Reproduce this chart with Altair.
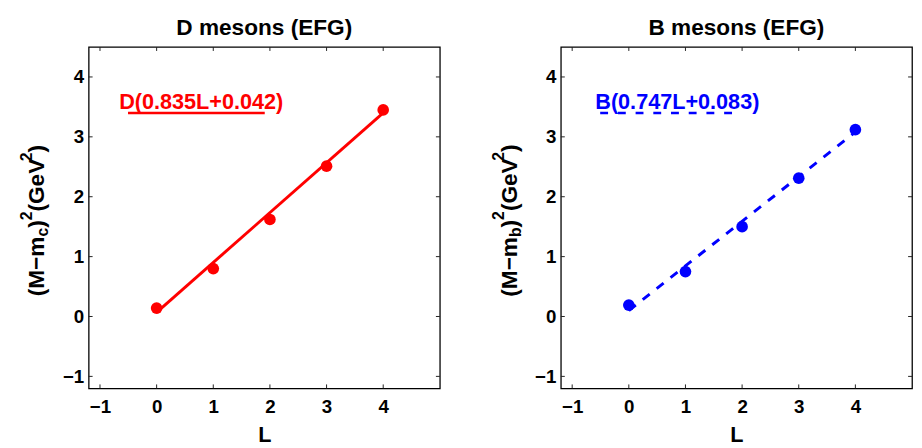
import altair as alt
import pandas as pd

# ---- data ----
L_vals = [0, 1, 2, 3, 4]
d_vals = [0.14, 0.80, 1.62, 2.51, 3.45]
b_vals = [0.19, 0.75, 1.50, 2.31, 3.12]
fit_L = [0, 4]
d_fit = [0.07, 3.40]
b_fit = [0.10, 3.08]
x_ticks = [-1, 0, 1, 2, 3, 4]
y_ticks = [-1, 0, 1, 2, 3, 4]
panel_titles = ["D mesons (EFG)", "B mesons (EFG)"]
legend_texts = ["D(0.835L+0.042)", "B(0.747L+0.083)"]
subscripts = ["c", "b"]
colors = ["#ff0000", "#0000ff"]

W, H = 357, 347
FONT = "Liberation Sans"
X_DOM = [-1.2, 5]
Y_DOM = [-1.2, 4.5]


def text_layer(txt, x, y, **kw):
    return (
        alt.Chart(pd.DataFrame({"t": [txt]}))
        .mark_text(font=FONT, fontWeight="bold", **kw)
        .encode(x=alt.value(x), y=alt.value(y), text="t:N")
    )


def ytitle_layers(sub):
    # composite rotated title: (M−m_sub)^2(GeV^2)
    pieces = [
        ("(M\u2212m", 23, 0, 2.639),
        (sub, 16, 4, 0.611 if sub == "b" else 0.556),
        (")", 23, 0, 0.333),
        ("2", 16, -13, 0.556),
        ("(GeV", 23, 0, 2.223),
        ("2", 16, -13, 0.556),
        (")", 23, 0, 0.333),
    ]
    total = sum(p[1] * p[3] for p in pieces)
    ypos = H / 2 + 3 + total / 2
    base_x = -45
    layers = []
    for txt, fs, shift, em in pieces:
        layers.append(text_layer(txt, base_x + shift, ypos, fontSize=fs, angle=270,
                                 align="left", baseline="alphabetic", color="black"))
        ypos -= fs * em
    return layers


def panel(i, vals, fit_vals, dash, text_x):
    color = colors[i]
    pts = pd.DataFrame({"L": L_vals, "v": vals})
    fit = pd.DataFrame({"L": fit_L, "v": fit_vals})
    xt = pd.DataFrame({"L": x_ticks})
    yt = pd.DataFrame({"v": y_ticks})

    x_enc = alt.X(
        "L:Q", scale=alt.Scale(domain=X_DOM, nice=False, zero=False),
        axis=alt.Axis(values=x_ticks, format="d", title="L", tickSize=0, domain=False, grid=False,
                      labelFont=FONT, labelFontSize=19, labelFontWeight="bold",
                      labelColor="black", labelPadding=10,
                      titleFont=FONT, titleFontSize=22, titleFontWeight="bold",
                      titleColor="black", titlePadding=8),
    )
    y_enc = alt.Y(
        "v:Q", scale=alt.Scale(domain=Y_DOM, nice=False, zero=False),
        axis=alt.Axis(values=y_ticks, format="d", title="", tickSize=0, domain=False, grid=False,
                      labelFont=FONT, labelFontSize=19, labelFontWeight="bold",
                      labelColor="black", labelPadding=5),
    )

    line_kw = dict(color=color, strokeWidth=3, clip=True)
    if dash:
        line_kw["strokeDash"] = [9, 9]
    fit_line = alt.Chart(fit).mark_line(**line_kw).encode(x=x_enc, y=y_enc)
    points = alt.Chart(pts).mark_circle(size=140, opacity=1, color=color).encode(
        x="L:Q", y="v:Q")

    tick_kw = dict(color="#222222", strokeWidth=1)
    xb = alt.Chart(xt).mark_rule(**tick_kw).encode(
        x="L:Q", y=alt.value(H), y2=alt.value(H - 4))
    xtop = alt.Chart(xt).mark_rule(**tick_kw).encode(
        x="L:Q", y=alt.value(0), y2=alt.value(4))
    yl = alt.Chart(yt).mark_rule(**tick_kw).encode(
        y="v:Q", x=alt.value(0), x2=alt.value(4))
    yr = alt.Chart(yt).mark_rule(**tick_kw).encode(
        y="v:Q", x=alt.value(W), x2=alt.value(W - 4))

    leg_kw = dict(color=color, strokeWidth=2.5)
    if dash:
        leg_kw["strokeDash"] = [8, 10]
    leg_line = alt.Chart(pd.DataFrame({"a": [0]})).mark_rule(**leg_kw).encode(
        x=alt.value(40), x2=alt.value(179), y=alt.value(67))
    leg_text = text_layer(legend_texts[i], text_x, 63, fontSize=22, color=color,
                          align="left", baseline="alphabetic")
    title = text_layer(panel_titles[i], W / 2, -12, fontSize=23, color="black",
                       align="center", baseline="alphabetic")

    layers = [fit_line, points, xb, xtop, yl, yr, leg_line, leg_text, title] + ytitle_layers(subscripts[i])
    return alt.layer(*layers).properties(width=W, height=H)


left = panel(0, d_vals, d_fit, False, 31)
right = panel(1, b_vals, b_fit, True, 35)

chart = alt.hconcat(left, right, spacing=49).properties(
    padding={"left": 10, "top": 5, "right": 0, "bottom": 0},
    background="white",
).configure_view(stroke="black", strokeWidth=1.3)

chart.save("out.html", embed_options={"renderer": "svg", "actions": False})
